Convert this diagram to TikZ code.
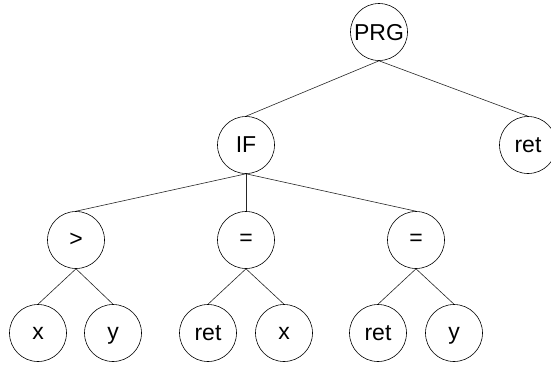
\documentclass[tikz,border=0pt]{standalone}
\usepackage{fontspec}
\setmainfont{Liberation Sans}
\begin{document}
\begin{tikzpicture}[x=1pt,y=-1pt,
  tnode/.style={circle,draw=black,line width=0.6pt,minimum size=57pt,inner sep=0pt,
    text depth=0pt,font=\fontsize{23}{27}\selectfont},
  tedge/.style={draw=black!85,line width=0.6pt}]
\useasboundingbox (0,0) rectangle (551,365);
% nodes of the syntax tree
\node[tnode] (prg) at (379,32) {PRG};
\node[tnode] (if)  at (246,145) {IF};
\node[tnode] (ret0) at (528,145) {ret};
\node[tnode] (gt)  at (76,240) {>};
\node[tnode] (eqa) at (246,240) {=};
\node[tnode] (eqb) at (416,240) {=};
\node[tnode] (x1)  at (38,333) {x};
\node[tnode] (y1)  at (113,333) {y};
\node[tnode] (r1)  at (208,333) {ret};
\node[tnode] (x2)  at (284,333) {x};
\node[tnode] (r2)  at (378,333) {ret};
\node[tnode] (y2)  at (454,333) {y};
% parent-to-child edges
\draw[tedge] (prg.south) -- (if.north);
\draw[tedge] (prg.south) -- (ret0.north);
\draw[tedge] (if.south) -- (gt.north);
\draw[tedge] (if.south) -- (eqa.north);
\draw[tedge] (if.south) -- (eqb.north);
\draw[tedge] (gt.south) -- (x1.north);
\draw[tedge] (gt.south) -- (y1.north);
\draw[tedge] (eqa.south) -- (r1.north);
\draw[tedge] (eqa.south) -- (x2.north);
\draw[tedge] (eqb.south) -- (r2.north);
\draw[tedge] (eqb.south) -- (y2.north);
\end{tikzpicture}
\end{document}
